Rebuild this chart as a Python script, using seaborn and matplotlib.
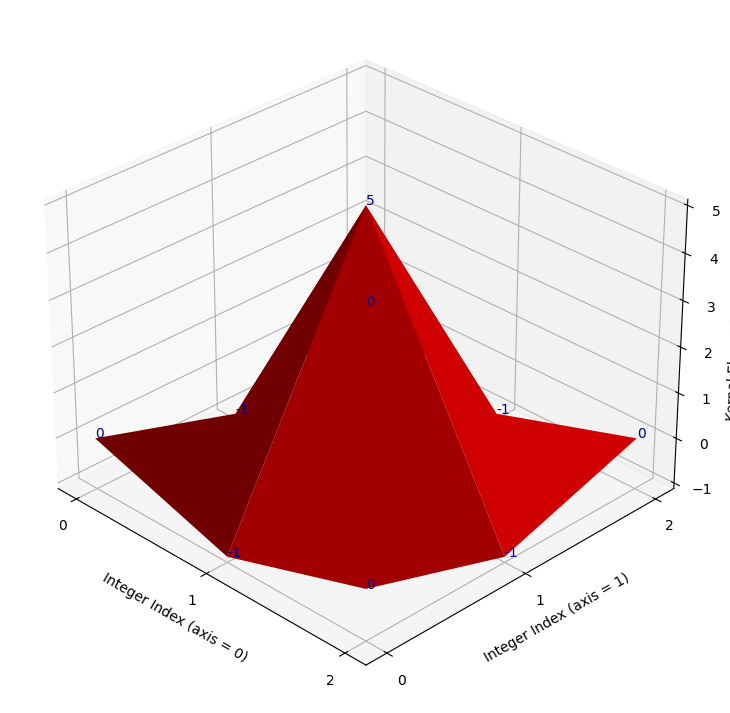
import numpy as np
import seaborn as sns
import matplotlib
matplotlib.use('Agg')
import matplotlib.pyplot as plt

# sharpen kernel shown as a surface
kernel = [[0, -1, 0],
          [-1, 5, -1],
          [0, -1, 0]]
index_values = [0, 1, 2]
z_ticks = [-1, 0, 1, 2, 3, 4, 5]

sns.reset_orig()
surface_color = sns.color_palette(['#ff0000'])[0]

values = np.array(kernel)
X, Y = np.meshgrid(index_values, index_values, indexing='ij')

fig = plt.figure(figsize=(7.3, 7.13), dpi=100)
ax = fig.add_axes([0.0035, 0.015, 0.97, 0.97], projection='3d')
ax.plot_surface(X, Y, values, color=surface_color, rstride=1, cstride=1)

for i in index_values:
    for j in index_values:
        ax.text(i, j, values[i, j], str(values[i, j]), color='darkblue')

ax.view_init(elev=30, azim=-45)
ax.set_xticks(index_values)
ax.set_yticks(index_values)
ax.set_zticks(z_ticks)
ax.set_xlabel('Integer Index (axis = 0)')
ax.set_ylabel('Integer Index (axis = 1)')
ax.set_zlabel('Kernel Element Value', labelpad=1.5)

fig.savefig('out.png', dpi=100)
